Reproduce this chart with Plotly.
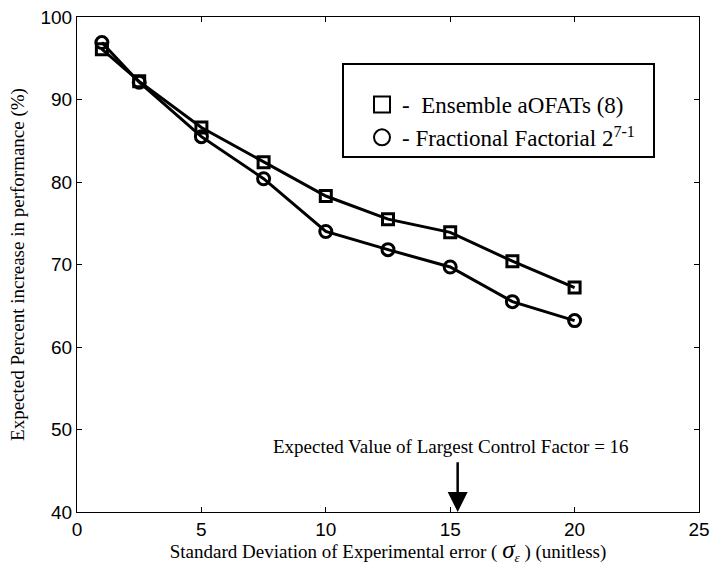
import plotly.graph_objects as go

# Standard deviation of experimental error (sigma_epsilon)
sigma = [1, 2.5, 5, 7.5, 10, 12.5, 15, 17.5, 20]

# Expected percent increase in performance (%)
ensemble_aofat = [96.1, 92.2, 86.6, 82.4, 78.3, 75.5, 73.9, 70.4, 67.2]
fractional_factorial = [96.9, 92.1, 85.5, 80.4, 74.0, 71.8, 69.7, 65.5, 63.2]

x_ticks = [0, 5, 10, 15, 20, 25]
y_ticks = [40, 50, 60, 70, 80, 90, 100]

largest_factor_sigma = 15.3
largest_factor_label = "Expected Value of Largest Control Factor = 16"

serif = "Liberation Serif, Times New Roman, serif"
sans = "Liberation Sans, Arial, sans-serif"

fig = go.Figure()

series = [
    ("-  Ensemble aOFATs (8)", ensemble_aofat, "square-open", 11),
    ("- Fractional Factorial 2<sup>7-1</sup>", fractional_factorial, "circle-open", 12),
]

for name, values, symbol, size in series:
    fig.add_trace(go.Scatter(
        x=sigma, y=values, mode="lines+markers", showlegend=False,
        line=dict(color="black", width=3),
        marker=dict(symbol=symbol, size=size, color="black",
                    line=dict(color="black", width=3)),
    ))

# legend entries show the marker only
for name, values, symbol, size in series:
    fig.add_trace(go.Scatter(
        x=[None], y=[None], mode="markers", name=name,
        marker=dict(symbol=symbol, size=size + 6, color="black",
                    line=dict(color="black", width=2)),
    ))

fig.add_annotation(
    x=largest_factor_sigma, y=40, ax=largest_factor_sigma, ay=46.2,
    xref="x", yref="y", axref="x", ayref="y",
    text="", showarrow=True, arrowhead=2, arrowsize=1.6,
    arrowwidth=2.5, arrowcolor="black", standoff=0,
)
fig.add_annotation(
    x=15.05, y=48.0, xref="x", yref="y", text=largest_factor_label,
    showarrow=False, font=dict(family=serif, size=19, color="black"),
)

# legend frame
fig.add_shape(
    type="rect", xref="paper", yref="paper",
    x0=(343 - 77) / 622, x1=(654 - 77) / 622,
    y0=1 - (157 - 17) / 495, y1=1 - (64 - 17) / 495,
    line=dict(color="black", width=2), fillcolor="white", layer="below",
)

axis_common = dict(
    showline=True, linecolor="black", linewidth=1, mirror="ticks",
    ticks="inside", ticklen=5, tickcolor="black", showgrid=False,
    zeroline=False, tickfont=dict(family=sans, size=19, color="black"),
)

x_title = ("Standard Deviation of Experimental error ( "
           "<span style='font-size:25px'><i>σ</i></span><sub><i>ε</i></sub> ) (unitless)")

fig.update_xaxes(
    range=[0, 25], tickvals=x_ticks,
    title=dict(text=x_title, font=dict(family=serif, size=19, color="black"), standoff=2),
    **axis_common,
)
fig.update_yaxes(
    range=[40, 100], tickvals=y_ticks,
    title=dict(text="Expected Percent increase in performance (%)",
               font=dict(family=serif, size=19, color="black"), standoff=10),
    **axis_common,
)

fig.update_layout(
    width=714, height=565,
    margin=dict(l=77, r=15, t=17, b=53, autoexpand=False),
    paper_bgcolor="white", plot_bgcolor="white",
    legend=dict(
        x=(362 - 77) / 622, y=1 - (83 - 17) / 495, xanchor="left", yanchor="top",
        bgcolor="rgba(0,0,0,0)", borderwidth=0,
        font=dict(family=serif, size=23, color="black"),
        itemsizing="trace", tracegroupgap=0,
    ),
)

fig.write_html("out.html")
